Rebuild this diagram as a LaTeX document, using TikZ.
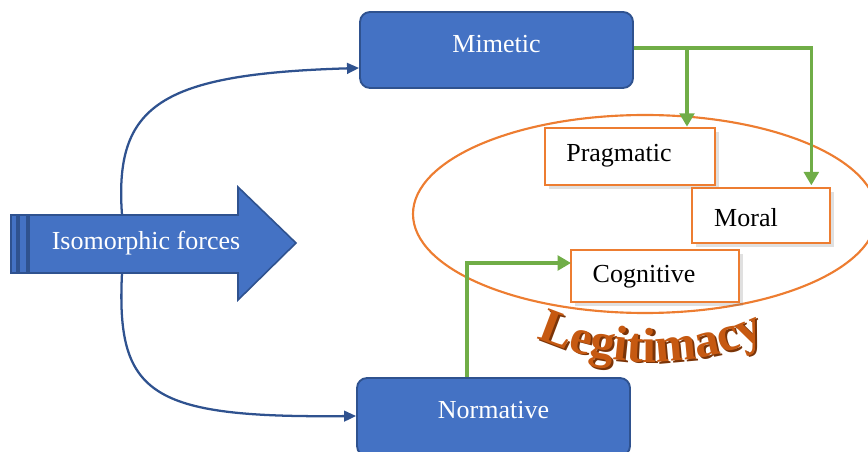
\documentclass[tikz,border=0pt]{standalone}
\usepackage{fontspec}
\setmainfont{Liberation Serif}
\usetikzlibrary{arrows.meta,shadows,decorations.text,calc,shapes.geometric}
\definecolor{bfill}{HTML}{4472C4}
\definecolor{bline}{HTML}{2F528F}
\definecolor{gline}{HTML}{70AD47}
\definecolor{oline}{HTML}{ED7D31}
\definecolor{legit}{HTML}{C65911}
\definecolor{legitsh}{HTML}{7A3408}
\tikzset{
  bluebox/.style={draw=bline, line width=1.4pt, fill=bfill, rounded corners=7.5pt, inner sep=0pt},
  orbox/.style={draw=oline, line width=2pt, fill=white, inner sep=0pt,
     drop shadow={shadow xshift=3pt, shadow yshift=-3pt, opacity=0.2, fill=black!60}},
  wtext/.style={text=white, font=\fontsize{19.5}{22}\selectfont, inner sep=0pt},
  btext/.style={text=black, font=\fontsize{19.5}{22}\selectfont, inner sep=0pt},
  garrow/.style={draw=gline, line width=2.4pt, -{Triangle[width=11pt,length=10pt]}},
  barrow/.style={draw=bline, line width=1.7pt, -{Triangle[width=8pt,length=9pt]}},
}
\begin{document}
\begin{tikzpicture}[x=0.75pt,y=-0.75pt]
\useasboundingbox (0,0) rectangle (868,452);
\clip (0,0) rectangle (868,452);
% ellipse
\node[draw=oline, line width=1.6pt, shape=ellipse, minimum width=348pt, minimum height=148.5pt, inner sep=0pt] (ell) at (645,214) {};
% blue boxes
\node[bluebox, minimum width=204.75pt, minimum height=57pt] (mim) at (496.5,50) {};
\node[wtext] (mimt) at (496.5,44) {Mimetic};
\node[bluebox, minimum width=204.75pt, minimum height=58.5pt] (nor) at (493.5,417) {};
\node[wtext] (nort) at (493.5,410) {Normative};
% orange boxes
\node[orbox, minimum width=127.5pt, minimum height=42.75pt] (prag) at (630,156.5) {};
\node[btext] (pragt) at (619,156) {Pragmatic};
\node[orbox, minimum width=103.5pt, minimum height=41.25pt] (mor) at (761,215.5) {};
\node[btext] (mort) at (746,218) {Moral};
\node[orbox, minimum width=126pt, minimum height=39pt] (cog) at (655,276) {};
\node[btext] (cogt) at (644,277) {Cognitive};
% big arrow
\draw[bline, line width=0.8pt, fill=bfill] (11,215) rectangle (17,273);
\draw[bline, line width=0.8pt, fill=bfill] (19,215) rectangle (27,273);
\draw[bline, line width=1.2pt, fill=bfill] (29,215) -- (238,215) -- (238,187) -- (296,243) -- (238,300) -- (238,273) -- (29,273) -- cycle;
\node[wtext] (iso) at (146,243) {Isomorphic forces};
\coordinate (atop) at (122,215);
\coordinate (abot) at (122,273);
% curved blue arrows
\draw[barrow] (atop) .. controls (114,105) and (160,74) .. (mim.west |- 0,68);
\draw[barrow] (abot) .. controls (116,395) and (150,418) .. (nor.west |- 0,416);
% green connectors
\coordinate (pragtip) at ([xshift=42.75pt]prag.north);
\coordinate (mortip) at ([xshift=-15pt, yshift=1pt]mor.north east);
\coordinate (mimout) at ([yshift=1.5pt]mim.east);
\draw[garrow] (mimout) -| (mortip);
\draw[garrow] (mimout -| pragtip) -- (pragtip);
\coordinate (norout) at ([xshift=-19.9pt]nor.north);
\coordinate (cogin) at ([yshift=9.75pt, xshift=1pt]cog.west);
\draw[garrow] (norout) |- (cogin);
% Legitimacy
\coordinate (l1) at (526,333);
\coordinate (l2) at (595,370);
\coordinate (l3) at (700,374);
\coordinate (l4) at (776,332);
\path[decorate, decoration={text along path, text align=center,
   text color=legitsh, text={|\fontsize{37}{37}\selectfont\bfseries|Legitimacy}}]
   ([xshift=1.6pt,yshift=-1.2pt]l1) .. controls ([xshift=1.6pt,yshift=-1.2pt]l2) and ([xshift=1.6pt,yshift=-1.2pt]l3) .. ([xshift=1.6pt,yshift=-1.2pt]l4);
\path[decorate, decoration={text along path, text align=center,
   text color=legit, text={|\fontsize{37}{37}\selectfont\bfseries|Legitimacy}}]
   (l1) .. controls (l2) and (l3) .. (l4);
\end{tikzpicture}
\end{document}
